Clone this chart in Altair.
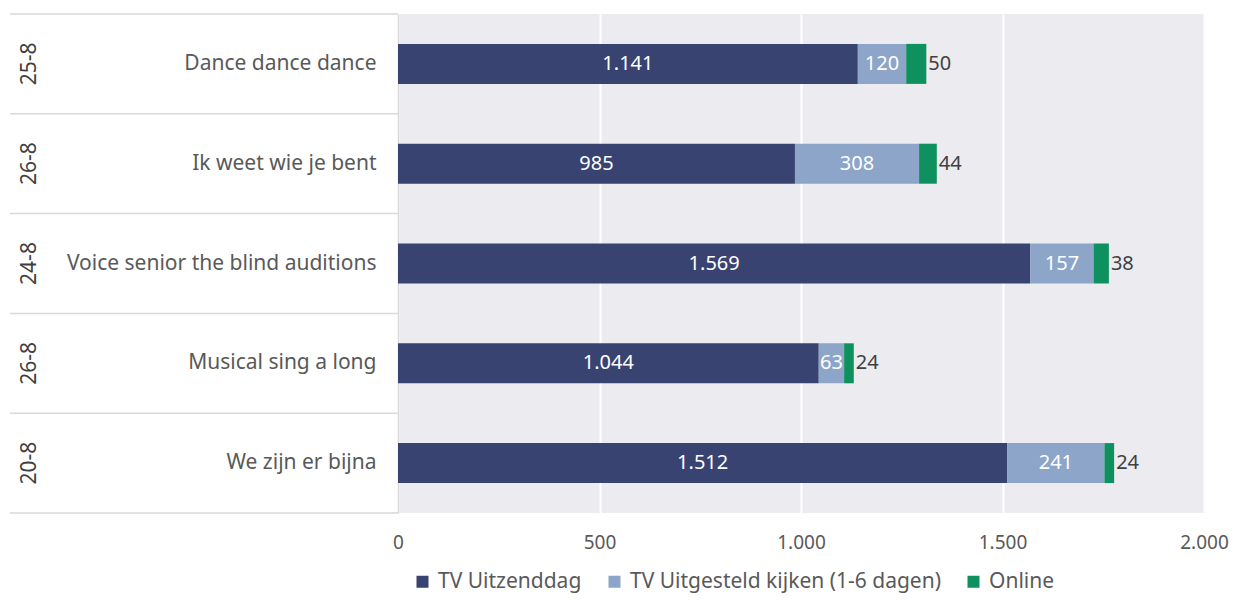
import altair as alt
import pandas as pd

programs = ["Dance dance dance", "Ik weet wie je bent", "Voice senior the blind auditions",
            "Musical sing a long", "We zijn er bijna"]
dates = ["25-8", "26-8", "24-8", "26-8", "20-8"]
series = ["TV Uitzenddag", "TV Uitgesteld kijken (1-6 dagen)", "Online"]
tv_live = [1141, 985, 1569, 1044, 1512]
tv_delayed = [120, 308, 157, 63, 241]
online = [50, 44, 38, 24, 24]
colors = ["#384371", "#8ca5c9", "#0e915e"]
separators = [0, 1, 2, 3, 4, 5]

def nl(v):
    return f"{v:,}".replace(",", ".")

rows = []
for i, p in enumerate(programs):
    vals = [tv_live[i], tv_delayed[i], online[i]]
    start = 0
    for j, s in enumerate(series):
        rows.append({"program": p, "series": s, "order": j, "value": vals[j],
                     "start": start, "end": start + vals[j],
                     "mid": start + vals[j] / 2, "label": nl(vals[j])})
        start += vals[j]
df = pd.DataFrame(rows)
df_in = df[df["order"] < 2]
df_out = df[df["order"] == 2]
df_dates = pd.DataFrame({"program": programs, "date": dates})
df_seps = pd.DataFrame({"sep": separators})

FONT = "Noto Sans"
W, H = 806, 499

yenc = alt.Y("program:N", sort=programs, title=None,
             scale=alt.Scale(paddingInner=0.6, paddingOuter=0.3),
             axis=alt.Axis(labelPadding=22, labelFontSize=21, labelColor="#595959",
                           labelFont=FONT, ticks=False, domainColor="#d9d9d9",
                           domainWidth=1.5, labelLimit=400))

bars = alt.Chart(df).mark_bar(size=40).encode(
    x=alt.X("start:Q", scale=alt.Scale(domain=[0, 2000]), title=None,
            axis=alt.Axis(values=[0, 500, 1000, 1500, 2000], ticks=False, domain=False,
                          gridColor="white", gridWidth=2, labelFontSize=19,
                          labelColor="#595959", labelFont=FONT, labelPadding=20,
                          labelFlush=False,
                          labelExpr="replace(format(datum.value, ','), ',', '.')")),
    x2="end:Q",
    y=yenc,
    color=alt.Color("series:N", sort=series,
                    scale=alt.Scale(domain=series, range=colors),
                    legend=alt.Legend(title=None, orient="none", direction="horizontal",
                                      legendX=14, legendY=557, symbolType="square",
                                      symbolSize=144, symbolStrokeWidth=0,
                                      labelFontSize=21, labelColor="#595959",
                                      labelFont=FONT, columnPadding=22, labelOffset=5,
                                      labelLimit=400)),
    order=alt.Order("order:Q"),
)

in_labels = alt.Chart(df_in).mark_text(color="white", fontSize=20, font=FONT,
                                        baseline="middle").encode(
    x="mid:Q", y=alt.Y("program:N", sort=programs), text="label:N")

out_labels = alt.Chart(df_out).mark_text(color="#404040", fontSize=20, font=FONT,
                                          align="left", dx=2, baseline="middle").encode(
    x="end:Q", y=alt.Y("program:N", sort=programs), text="label:N")

date_labels = alt.Chart(df_dates).mark_text(color="#404040", fontSize=21, font=FONT,
                                            angle=270, baseline="middle").encode(
    x=alt.value(-368), y=alt.Y("program:N", sort=programs), text="date:N")

main = alt.layer(bars, in_labels, out_labels, date_labels)

seps = alt.Chart(df_seps).mark_rule(color="#d9d9d9", strokeWidth=1.5).encode(
    x=alt.value(-388), x2=alt.value(0),
    y=alt.Y("sep:Q", scale=alt.Scale(domain=[0, 5], nice=False, zero=False), axis=None))

chart = alt.layer(main, seps).resolve_scale(y="independent").properties(
    width=W, height=H,
    autosize=alt.AutoSizeParams(type="none"),
    padding={"left": 390, "top": 6, "right": 26, "bottom": 81},
    background="white",
).configure_view(fill="#ececf0", stroke=None)

chart.save("out.html", embed_options={"renderer": "svg", "actions": False})
